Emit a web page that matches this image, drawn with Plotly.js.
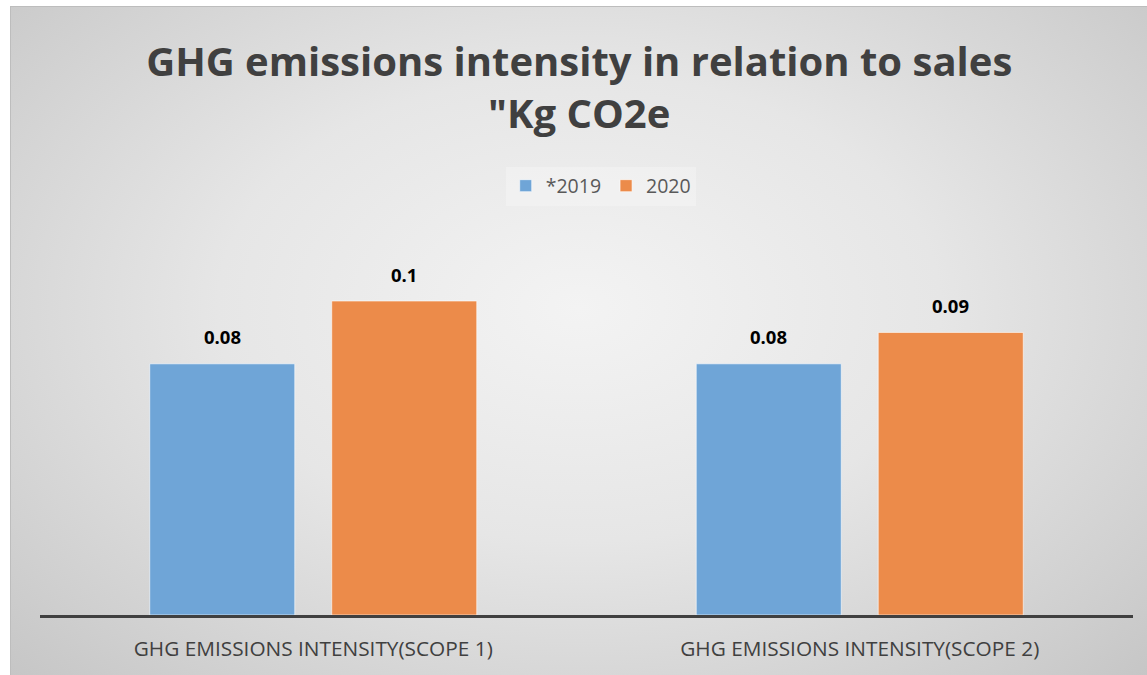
<!DOCTYPE html>
<html>
<head>
<meta charset="utf-8">
<script src="https://cdn.plot.ly/plotly-3.0.1.min.js"></script>
<style>
  html, body { margin: 0; padding: 0; background: #ffffff; }
  #bg { position: absolute; left: 10px; top: 6px; width: 1137px; height: 669px;
        box-sizing: border-box; border-left: 1px solid #bdbdbd; border-top: 1px solid #bdbdbd;
        background: radial-gradient(ellipse at 50% 45%, #f3f3f3 0%, #e6e6e6 45%, #cfcfcf 85%, #c6c6c6 100%); }
  #chart { position: absolute; left: 0; top: 0; width: 1147px; height: 675px; }
</style>
</head>
<body>
<div id="bg"></div>
<div id="chart"></div>
<script>
const categories = ["GHG EMISSIONS INTENSITY(SCOPE 1)", "GHG EMISSIONS INTENSITY(SCOPE 2)"];
const seriesNames = ["*2019", "2020"];
const values2019 = [0.08, 0.08];
const values2020 = [0.1, 0.09];

const colors = ["#6fa5d7", "#ec8b4a"];
const allSeries = [values2019, values2020];

const traces = allSeries.map((vals, i) => ({
  type: "bar",
  name: seriesNames[i],
  x: categories,
  y: vals,
  marker: { color: colors[i], line: { color: "rgba(255,255,255,0.6)", width: 1 } },
  hoverinfo: "none"
}));

const bargap = 0.334;
const plotW = 1147 - 40 - 14;
const catW = plotW / categories.length;
const slotW = catW * (1 - bargap) / allSeries.length;

const annotations = [];
allSeries.forEach((vals, i) => {
  vals.forEach((v, j) => {
    annotations.push({
      x: categories[j], y: v, xref: "x", yref: "y",
      text: String(v), showarrow: false,
      xshift: (i - (allSeries.length - 1) / 2) * slotW,
      yshift: 27,
      font: { family: "Open Sans, sans-serif", size: 18.5, color: "#000000", weight: "bold" }
    });
  });
});

const layout = {
  width: 1147, height: 675,
  paper_bgcolor: "rgba(0,0,0,0)",
  plot_bgcolor: "rgba(0,0,0,0)",
  margin: { l: 40, r: 14, t: 240, b: 60 },
  title: {
    text: "GHG emissions intensity in relation to sales<br>\"Kg CO2e",
    x: 0.505, xanchor: "center", y: 0.887, yanchor: "middle",
    font: { family: "Open Sans, sans-serif", size: 40, color: "#404040", weight: "bold" }
  },
  barmode: "group",
  bargap: bargap,
  bargroupgap: 0.203,
  showlegend: true,
  legend: {
    orientation: "h", x: 0.513, xanchor: "center", y: 1 - 186 / 675, yref: "container", yanchor: "middle",
    bgcolor: "rgba(255,255,255,0.25)",
    font: { family: "Open Sans, sans-serif", size: 19.5, color: "#595959" },
    itemwidth: 30, traceorder: "normal"
  },
  xaxis: {
    showline: true, linecolor: "#404040", linewidth: 3,
    ticks: "outside", ticklen: 13, tickcolor: "rgba(0,0,0,0)",
    tickfont: { family: "Open Sans, sans-serif", size: 20.8, color: "#404040" },
    showgrid: false, zeroline: false, fixedrange: true
  },
  yaxis: {
    range: [0, 0.11943], visible: false, showgrid: false, zeroline: false, fixedrange: true
  },
  annotations: annotations
};

Plotly.newPlot("chart", traces, layout, { displayModeBar: false, staticPlot: true });
</script>
</body>
</html>
